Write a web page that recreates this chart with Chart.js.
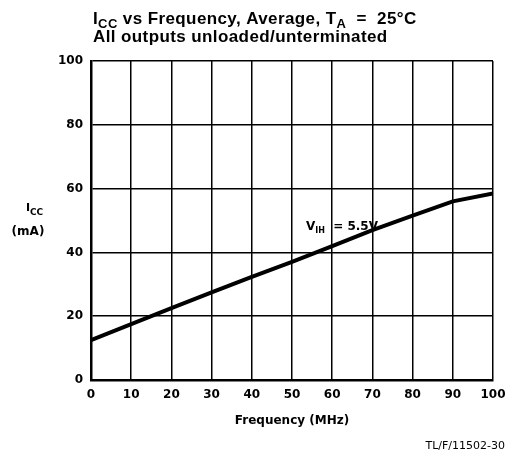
<!DOCTYPE html>
<html lang="en">
<head>
  <meta charset="UTF-8" />
  <title>ICC vs Frequency</title>
  <script src="https://cdn.jsdelivr.net/npm/chart.js"></script>
  <style>
    html, body { margin: 0; padding: 0; background: #fff; }
    #wrap { width: 509px; height: 459px; }
  </style>
</head>
<body>
<div id="wrap"><canvas id="iccChart"></canvas></div>
<script>
  // data
  const freqMHz = [0, 10, 20, 30, 40, 50, 60, 70, 80, 90, 100];
  const iccMA = [12.5, 17.5, 22.5, 27.5, 32.3, 37, 42, 47, 51.5, 56, 58.5];
  const xTicks = [0, 10, 20, 30, 40, 50, 60, 70, 80, 90, 100];
  const yTicks = [0, 20, 40, 60, 80, 100];

  const FONT = '"Liberation Sans", Arial, sans-serif';
  const TICK_FONT = '"DejaVu Sans", sans-serif';

  // draw text parts: [text, isSubscript]
  function drawParts(ctx, parts, x, y, size) {
    let cx = x;
    parts.forEach(([t, sub]) => {
      ctx.font = 'bold ' + (sub ? Math.round(size * 0.75) : size) + 'px ' + FONT;
      ctx.fillText(t, cx, sub ? y + size * 0.22 : y);
      cx += ctx.measureText(t).width;
    });
  }

  const textPlugin = {
    id: 'texts',
    afterDraw(chart) {
      const ctx = chart.ctx;
      const xs = chart.scales.x, ys = chart.scales.y;
      ctx.save();
      ctx.fillStyle = '#000';
      ctx.textBaseline = 'alphabetic';
      ctx.textAlign = 'left';
      ctx.letterSpacing = '0.4px';
      drawParts(ctx, [['I', false], ['CC', true], [' vs Frequency, Average, T', false], ['A', true], ['  =  25°C', false]], 93, 24, 17);
      drawParts(ctx, [['All outputs unloaded/unterminated', false]], 93, 42, 17);
      ctx.letterSpacing = '0px';

      ctx.textBaseline = 'middle';
      // y axis label
      ctx.font = 'bold 11px ' + TICK_FONT;
      ctx.textAlign = 'left';
      ctx.fillText('I', 26, 208);
      ctx.font = 'bold 9px ' + TICK_FONT;
      ctx.fillText('CC', 30, 213);
      ctx.font = 'bold 12px ' + TICK_FONT;
      ctx.textAlign = 'center';
      ctx.fillText('(mA)', 28, 232);

      // curve label
      const lx = xs.getPixelForValue(53.5), ly = ys.getPixelForValue(48);
      ctx.textAlign = 'left';
      ctx.font = 'bold 12px ' + TICK_FONT;
      ctx.fillText('V', lx, ly);
      let w = ctx.measureText('V').width;
      ctx.font = 'bold 8px ' + TICK_FONT;
      ctx.fillText('IH', lx + w, ly + 4);
      w += ctx.measureText('IH').width;
      ctx.font = 'bold 12px ' + TICK_FONT;
      ctx.fillText(' = 5.5V', lx + w + 4, ly);

      // x axis title
      ctx.textAlign = 'center';
      ctx.font = 'bold 12px ' + TICK_FONT;
      ctx.fillText('Frequency (MHz)', (xs.left + xs.right) / 2, 421);

      // figure id
      ctx.textAlign = 'right';
      ctx.font = '11px ' + TICK_FONT;
      ctx.fillText('TL/F/11502-30', 505, 446);
      ctx.restore();
    }
  };

  new Chart(document.getElementById('iccChart'), {
    type: 'line',
    data: {
      datasets: [{
        data: freqMHz.map((f, i) => ({ x: f, y: iccMA[i] })),
        borderColor: '#000',
        borderWidth: 4,
        pointRadius: 0,
        tension: 0
      }]
    },
    options: {
      responsive: true,
      maintainAspectRatio: false,
      animation: false,
      layout: { padding: { left: 0, top: 61, right: 16, bottom: 0 } },
      plugins: { legend: { display: false }, tooltip: { enabled: false } },
      scales: {
        x: {
          type: 'linear', min: 0, max: 100,
          afterFit: s => { s.height = 79; s.paddingLeft = 0; s.paddingRight = 0; },
          afterBuildTicks: s => { s.ticks = xTicks.map(v => ({ value: v })); },
          grid: { color: '#000', lineWidth: 1.5, drawTicks: false },
          border: { color: '#000', width: 2.5 },
          ticks: { color: '#000', padding: 8, maxRotation: 0, font: { family: TICK_FONT, size: 12, weight: 'bold' } }
        },
        y: {
          type: 'linear', min: 0, max: 100,
          afterFit: s => { s.width = 91; s.paddingTop = 0; s.paddingBottom = 0; },
          afterBuildTicks: s => { s.ticks = yTicks.map(v => ({ value: v })); },
          grid: { color: '#000', lineWidth: 1.5, drawTicks: false },
          border: { color: '#000', width: 2.5 },
          ticks: { color: '#000', padding: 8, font: { family: TICK_FONT, size: 12, weight: 'bold' } }
        }
      }
    },
    plugins: [textPlugin]
  });
</script>
</body>
</html>
